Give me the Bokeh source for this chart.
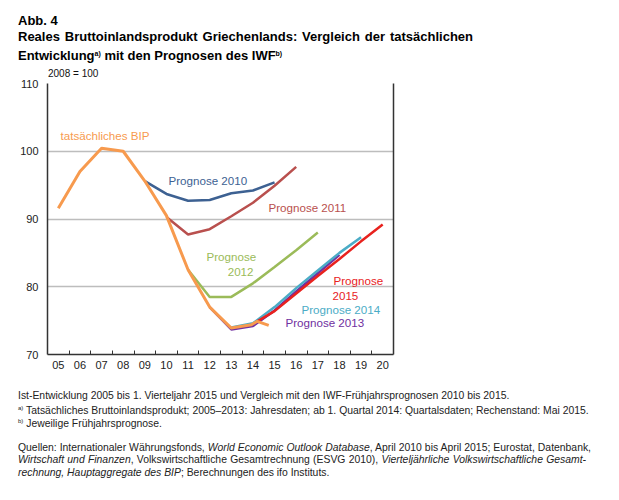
from bokeh.plotting import figure
from bokeh.models import FixedTicker, Label, LinearAxis, Div
from bokeh.layouts import column
from bokeh.embed import file_html
from bokeh.resources import INLINE

# ---------------- data ----------------
years_actual = [2005, 2006, 2007, 2008, 2009, 2010, 2011, 2012, 2013, 2013.93, 2014.2, 2014.73]
gdp_actual = [91.6, 97.0, 100.45, 100.0, 95.6, 90.5, 82.5, 77.0, 73.9, 74.4, 74.9, 74.3]

years_p2010 = [2009, 2010, 2011, 2012, 2013, 2014, 2015]
prog_2010 = [95.6, 93.7, 92.7, 92.8, 93.8, 94.2, 95.4]

years_p2011 = [2010, 2011, 2012, 2013, 2014, 2015, 2016]
prog_2011 = [90.3, 87.7, 88.5, 90.4, 92.4, 94.9, 97.7]

years_p2012 = [2011, 2012, 2013, 2014, 2015, 2016, 2017]
prog_2012 = [82.5, 78.5, 78.5, 80.5, 82.9, 85.4, 88.0]

years_p2013 = [2012, 2013, 2014, 2015, 2016, 2017, 2018]
prog_2013 = [77.0, 73.7, 74.2, 76.5, 79.3, 82.0, 84.7]

years_p2014 = [2013, 2014, 2015, 2016, 2017, 2018, 2019]
prog_2014 = [74.0, 74.6, 77.0, 79.8, 82.4, 85.0, 87.3]

years_p2015 = [2014.2, 2015, 2016, 2017, 2018, 2019, 2020]
prog_2015 = [74.9, 76.4, 79.0, 81.6, 84.1, 86.7, 89.2]

tick_years = list(range(2005, 2021))
tick_labels = ["05", "06", "07", "08", "09", "10", "11", "12", "13", "14",
               "15", "16", "17", "18", "19", "20"]
y_ticks = [70, 80, 90, 100, 110]

# ---------------- colours ----------------
C_ACT = "#F79A4E"
C_2010 = "#3D6192"
C_2011 = "#B9504E"
C_2012 = "#9BBB59"
C_2013 = "#7030A0"
C_2014 = "#4BACC6"
C_2015 = "#E8221E"

FONT = "Liberation Sans"
FOOTF = "'Liberation Sans', Arial, sans-serif"

# frame geometry (page pixels)
TOP_H = 79
FL, FR, FT, FB = 47, 393, 83, 354
X0, X1, Y0, Y1 = 2004.5, 2020.5, 70, 110
FIG_H = (FT - TOP_H) + (FB - FT) + 24


def dx(px):
    return X0 + (px - FL) * (X1 - X0) / (FR - FL)


def dy(py):
    return Y0 + (FB - py) * (Y1 - Y0) / (FB - FT)


p = figure(width=619, height=FIG_H, frame_width=FR - FL, frame_height=FB - FT,
           min_border_left=FL, min_border_top=FT - TOP_H,
           min_border_right=619 - FR, min_border_bottom=24,
           x_range=(X0, X1), y_range=(Y0, Y1),
           output_backend="svg", toolbar_location=None, margin=0)
p.outline_line_color = None
p.background_fill_color = "white"
p.border_fill_color = None

# axes
xa = p.xaxis[0]
xa.ticker = FixedTicker(ticks=tick_years, minor_ticks=[y + 0.5 for y in tick_years[:-1]])
xa.major_label_overrides = {y: l for y, l in zip(tick_years, tick_labels)}
xa.major_tick_in = 0
xa.major_tick_out = 0
xa.minor_tick_in = 4
xa.minor_tick_out = 0
xa.minor_tick_line_color = "#333333"
xa.axis_line_color = "#333333"
xa.axis_line_width = 1.5
xa.major_label_text_font = FONT
xa.major_label_text_font_size = "11px"
xa.major_label_text_color = "#222222"
xa.major_label_standoff = 6

ya = p.yaxis[0]
ya.ticker = FixedTicker(ticks=y_ticks)
ya.major_tick_in = 0
ya.major_tick_out = 0
ya.minor_tick_line_color = None
ya.axis_line_color = "#333333"
ya.axis_line_width = 1.5
ya.major_label_text_font = FONT
ya.major_label_text_font_size = "11px"
ya.major_label_text_color = "#222222"
ya.major_label_standoff = 9

ra = LinearAxis(ticker=FixedTicker(ticks=[]), major_tick_in=0, major_tick_out=0,
                minor_tick_line_color=None, major_label_text_font_size="0px",
                axis_line_color="#333333", axis_line_width=1.5)
p.add_layout(ra, "right")

p.xgrid.grid_line_color = None
p.ygrid.ticker = FixedTicker(ticks=y_ticks)
p.ygrid.grid_line_color = "#BDBDBD"
p.ygrid.grid_line_width = 1.5

# lines
p.line(years_p2010, prog_2010, line_color=C_2010, line_width=2.5)
p.line(years_p2011, prog_2011, line_color=C_2011, line_width=2.5)
p.line(years_p2012, prog_2012, line_color=C_2012, line_width=2.5)
p.line(years_p2013, prog_2013, line_color=C_2013, line_width=2.5)
p.line(years_p2014, prog_2014, line_color=C_2014, line_width=2.5)
p.line(years_p2015, prog_2015, line_color=C_2015, line_width=2.5)
p.line(years_actual, gdp_actual, line_color=C_ACT, line_width=3)


def lab(text, px, py, color, align="left"):
    p.add_layout(Label(x=dx(px), y=dy(py), text=text, text_color=color,
                       text_font_size="11.6px", text_font=FONT,
                       text_align=align, text_baseline="middle"))


# series labels
lab("tatsächliches BIP", 60, 135, C_ACT)
lab("Prognose 2010", 168, 180, C_2010)
lab("Prognose 2011", 268, 207, C_2011)
lab("Prognose", 206, 256, C_2012)
lab("2012", 253, 271, C_2012, align="right")
lab("Prognose", 333, 280, C_2015)
lab("2015", 332, 295, C_2015)
lab("Prognose 2014", 301, 309, C_2014)
lab("Prognose 2013", 285, 322, C_2013)


# ---------------- title and footnotes as HTML ----------------
def hline(html, left, cy, size, family, weight="normal", width=None, color="#000",
          origin_top=0):
    lh = round(size * 1.25)
    top = cy - origin_top - lh / 2
    st = (f"position:absolute;left:{left}px;top:{top}px;font-size:{size}px;"
          f"line-height:{lh}px;font-family:{family};font-weight:{weight};color:{color};"
          "white-space:nowrap;")
    if width is not None:
        st += f"width:{width}px;text-align:justify;text-align-last:justify;"
    return f'<div style="{st}">{html}</div>'


def sup(t, size):
    return f'<span style="font-size:{size}px;vertical-align:{round(size * 0.6)}px;">{t}</span>'


TF = "'Liberation Sans', Arial, sans-serif"
top_html = (
    f'<div style="position:relative;width:619px;height:{TOP_H}px;">'
    + hline("Abb. 4", 18, 21, 13, TF, "bold")
    + hline("Reales Bruttoinlandsprodukt Griechenlands: Vergleich der tatsächlichen",
            18, 37, 13, TF, "bold", width=455)
    + hline("Entwicklung" + sup("a)", 7) + " mit den Prognosen des IWF" + sup("b)", 7),
            18, 54, 13, TF, "bold")
    + hline("2008 = 100", 48, 74, 10, TF, color="#111")
    + "</div>"
)

B0 = TOP_H + FIG_H
FN = 10.4
FC = "#222"
bot_html = (
    f'<div style="position:relative;width:619px;height:{500 - B0 - 4}px;">'
    + hline("Ist-Entwicklung 2005 bis 1. Vierteljahr 2015 und Vergleich mit den "
            "IWF-Frühjahrsprognosen 2010 bis 2015.", 18, 395, FN, FOOTF, color=FC, origin_top=B0)
    + hline(sup("a)", 6) + " Tatsächliches Bruttoinlandsprodukt; 2005–2013: Jahresdaten; ab 1. Quartal 2014: "
            "Quartalsdaten; Rechenstand: Mai 2015.", 18, 408, FN, FOOTF, color=FC, origin_top=B0)
    + hline(sup("b)", 6) + " Jeweilige Frühjahrsprognose.", 18, 421, FN, FOOTF, color=FC, origin_top=B0)
    + hline("Quellen: Internationaler Währungsfonds, <i>World Economic Outlook Database</i>, "
            "April 2010 bis April 2015; Eurostat, Datenbank,", 18, 447, FN, FOOTF, color=FC,
            width=573, origin_top=B0)
    + hline("<i>Wirtschaft und Finanzen</i>, Volkswirtschaftliche Gesamtrechnung (ESVG 2010), "
            "<i>Vierteljährliche Volkswirtschaftliche Gesamt-</i>", 18, 459, FN, FOOTF, color=FC,
            width=568, origin_top=B0)
    + hline("<i>rechnung, Hauptaggregate des BIP</i>; Berechnungen des ifo Instituts.",
            18, 472, FN, FOOTF, color=FC, origin_top=B0)
    + "</div>"
)

top_div = Div(text=top_html, width=619, height=TOP_H, margin=0)
bot_div = Div(text=bot_html, width=619, height=500 - B0 - 4, margin=0)

layout = column(top_div, p, bot_div, spacing=0, margin=0)

open("out.html", "w").write(file_html(layout, INLINE))
